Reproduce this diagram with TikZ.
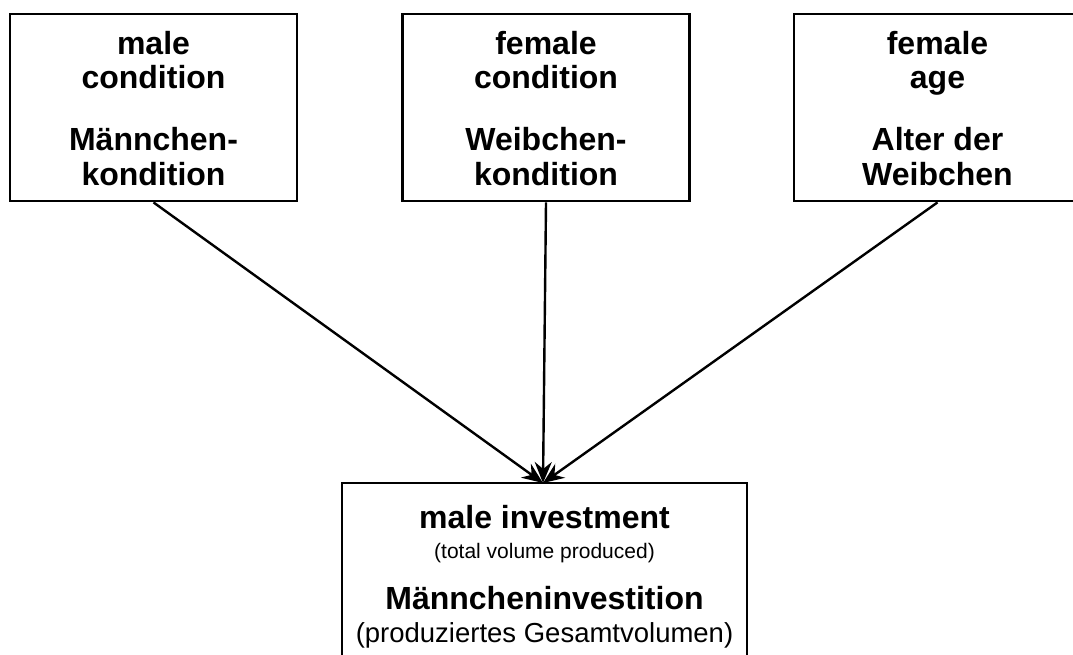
\documentclass[tikz,border=0pt]{standalone}
\usepackage{fontspec}
\setmainfont{Liberation Sans}
\usetikzlibrary{arrows.meta}
\begin{document}
\begin{tikzpicture}[x=1pt,y=-1pt,
  box/.style={draw,line width=2.8pt,rectangle,inner sep=0pt,
    minimum width=287pt,minimum height=187pt},
  title/.style={anchor=base,inner sep=0pt,font=\bfseries\fontsize{32}{35}\selectfont},
  sub/.style={anchor=base,inner sep=0pt,font=\fontsize{21}{25}\selectfont},
  subbig/.style={anchor=base,inner sep=0pt,font=\fontsize{27.5}{31}\selectfont},
  link/.style={line width=2.4pt,-{Stealth[length=21pt,width=17pt,inset=7pt]}}]
\useasboundingbox (0,0) rectangle (1073,654);
\clip (0,0) rectangle (1073,654);
% factor boxes
\node[box] (mc) at (153.5,107.5) {};
\node[box] (fc) at (546,107.5) {};
\node[box] (fa) at (937.5,107.5) {};
% outcome box (runs below the lower edge)
\node[box,minimum width=405pt] (mi) at (544.5,576.5) {};
% labels of the factor boxes
\node[title] (mc1) at (153.5,54) {male};
\node[title] (mc2) at (153.5,88) {condition};
\node[title] (mc3) at (153.5,150) {Männchen-};
\node[title] (mc4) at (153.5,185) {kondition};
\node[title] (fc1) at (546,54) {female};
\node[title] (fc2) at (546,88) {condition};
\node[title] (fc3) at (546,150) {Weibchen-};
\node[title] (fc4) at (546,185) {kondition};
\node[title] (fa1) at (937.5,54) {female};
\node[title] (fa2) at (937.5,88) {age};
\node[title] (fa3) at (937.5,150) {Alter der};
\node[title] (fa4) at (937.5,185) {Weibchen};
% labels of the outcome box
\node[title]  (mi1) at (544.5,528) {male investment};
\node[sub]    (mi2) at (544.5,558) {(total volume produced)};
\node[title]  (mi3) at (544.5,609) {Männcheninvestition};
\node[subbig] (mi4) at (544.5,642) {(produziertes Gesamtvolumen)};
% influences
\coordinate (hit) at (543,483);
\draw[link] (mc.south) -- (hit);
\draw[link] (fc.south) -- (hit);
\draw[link] (fa.south) -- (hit);
\end{tikzpicture}
\end{document}
